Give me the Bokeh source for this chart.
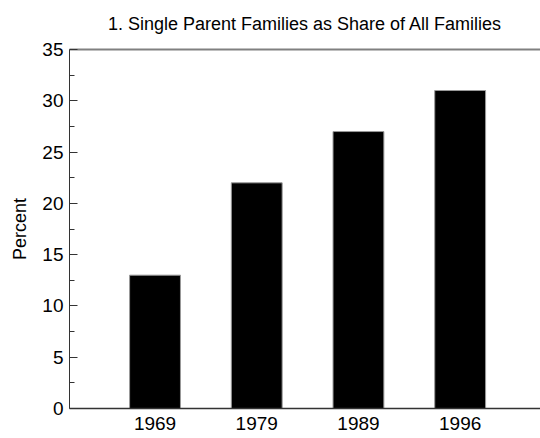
from bokeh.plotting import figure
from bokeh.models import FixedTicker, LinearAxis, Range1d
from bokeh.embed import file_html
from bokeh.resources import INLINE

years = ["1969", "1979", "1989", "1996"]
positions = [1, 2, 3, 4]
shares = [13, 22, 27, 31]

FONT = "Liberation Sans"

p = figure(width=540, height=438, output_backend="svg", toolbar_location=None,
           x_range=Range1d(0.159, 4.79), y_range=Range1d(0, 35),
           min_border_left=69, min_border_right=0, min_border_top=49, min_border_bottom=30,
           title="1. Single Parent Families as Share of All Families")
p.title.align = "center"
p.title.vertical_align = "top"
p.title.text_font = FONT
p.title.text_font_size = "18px"
p.title.text_font_style = "normal"
p.title.text_color = "black"
p.title.standoff = 27

p.vbar(x=positions, top=shares, width=0.5, fill_color="black", line_color="#999999", line_width=1)

p.grid.visible = False
p.outline_line_color = None
p.background_fill_color = "white"
p.border_fill_color = "white"

# y axis
ya = p.yaxis[0]
ya.ticker = FixedTicker(ticks=[0, 5, 10, 15, 20, 25, 30, 35],
                        minor_ticks=[2.5, 7.5, 12.5, 17.5, 22.5, 27.5, 32.5])
ya.major_tick_in = 8
ya.major_tick_out = 0
ya.minor_tick_in = 5
ya.minor_tick_out = 0
ya.axis_line_color = "#333333"
ya.major_tick_line_color = "#333333"
ya.minor_tick_line_color = "#333333"
ya.major_label_text_font = FONT
ya.major_label_text_font_size = "19px"
ya.major_label_text_color = "black"
ya.major_label_standoff = 6
ya.axis_label = "Percent"
ya.axis_label_text_font = FONT
ya.axis_label_text_font_size = "18px"
ya.axis_label_text_font_style = "normal"
ya.axis_label_text_color = "black"
ya.axis_label_standoff = 9

# x axis
xa = p.xaxis[0]
xa.ticker = FixedTicker(ticks=positions)
xa.major_label_overrides = {pos: lab for pos, lab in zip(positions, years)}
xa.major_tick_line_color = None
xa.minor_tick_line_color = None
xa.major_tick_in = 0
xa.major_tick_out = 0
xa.axis_line_color = "#333333"
xa.axis_line_width = 1.5
xa.major_label_text_font = FONT
xa.major_label_text_font_size = "19px"
xa.major_label_text_color = "black"
xa.major_label_standoff = 8

# top frame line
top = LinearAxis(ticker=FixedTicker(ticks=[]), axis_line_color="#808080", axis_line_width=2,
                 major_tick_line_color=None, minor_tick_line_color=None,
                 major_label_text_font_size="0px", major_tick_in=0, major_tick_out=0)
p.add_layout(top, "above")

open("out.html", "w").write(file_html(p, INLINE))
